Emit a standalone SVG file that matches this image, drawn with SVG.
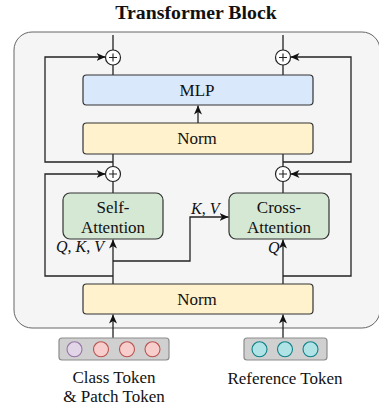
<svg xmlns="http://www.w3.org/2000/svg" width="379" height="412" viewBox="0 0 379 412">
  <style>
    .box { stroke: #333333; stroke-width: 1.2; }
    .label { font-family: "Liberation Serif", "Times New Roman", serif; font-size: 17px; fill: #111111; text-anchor: middle; }
    .math { font-family: "Liberation Serif", "Times New Roman", serif; font-size: 16px; font-style: italic; fill: #111111; }
    .wire { fill: none; stroke: #222222; stroke-width: 1.3; }
    .sum { fill: #ffffff; stroke: #222222; stroke-width: 1.2; }
    .plus { stroke: #222222; stroke-width: 1.1; }
    .bar { fill: #d0d0d0; stroke: #8c8c8c; stroke-width: 1.2; }
  </style>
  <defs>
    <marker id="arrow" markerUnits="userSpaceOnUse" markerWidth="10" markerHeight="8" viewBox="0 0 10 8" refX="9" refY="4" orient="auto">
      <path d="M0,0 L9,4 L0,8 L2.5,4 Z" fill="#111111"/>
    </marker>
  </defs>

  <!-- title -->
  <text id="title" x="196" y="19" font-family="Liberation Serif, Times New Roman, serif" font-size="19.8" font-weight="bold" text-anchor="middle" fill="#111111">Transformer Block</text>

  <!-- block container -->
  <rect id="container" x="14" y="32" width="366" height="296" rx="18" fill="#f5f5f5" stroke="#666666" stroke-width="1"/>

  <!-- connectors -->
  <g id="connectors">
    <path class="wire" d="M113,35 V50 M113,65 V75"/>
    <path class="wire" d="M283,35 V50 M283,65 V75"/>
    <path class="wire" d="M198,123 V105.5" marker-end="url(#arrow)"/>
    <path class="wire" d="M113,154 V167 M283,154 V167"/>
    <path class="wire" d="M113,162 H45 V57 H105.5" marker-end="url(#arrow)"/>
    <path class="wire" d="M283,162 H351 V57 H290.5" marker-end="url(#arrow)"/>
    <path class="wire" d="M113,181 V193 M283,181 V193"/>
    <path class="wire" d="M113,276 H45 V174 H105.5" marker-end="url(#arrow)"/>
    <path class="wire" d="M283,276 H351 V174 H290.5" marker-end="url(#arrow)"/>
    <path class="wire" d="M113,284 V239.5" marker-end="url(#arrow)"/>
    <path class="wire" d="M113,261 H190 V217 H228.5" marker-end="url(#arrow)"/>
    <path class="wire" d="M283,284 V239.5" marker-end="url(#arrow)"/>
    <path class="wire" d="M113,338 V314.5" marker-end="url(#arrow)"/>
    <path class="wire" d="M283,338 V314.5" marker-end="url(#arrow)"/>
  </g>

  <!-- residual additions -->
  <g id="add-top-left">
    <circle class="sum" cx="113" cy="57.5" r="7.5"/>
    <path class="plus" d="M109,57.5 H117 M113,53.5 V61.5"/>
  </g>
  <g id="add-top-right">
    <circle class="sum" cx="283" cy="57.5" r="7.5"/>
    <path class="plus" d="M279,57.5 H287 M283,53.5 V61.5"/>
  </g>
  <g id="add-mid-left">
    <circle class="sum" cx="113" cy="174" r="7.5"/>
    <path class="plus" d="M109,174 H117 M113,170 V178"/>
  </g>
  <g id="add-mid-right">
    <circle class="sum" cx="283" cy="174" r="7.5"/>
    <path class="plus" d="M279,174 H287 M283,170 V178"/>
  </g>

  <!-- MLP -->
  <g id="mlp">
    <rect class="box" x="83" y="75" width="230" height="30" rx="3.5" fill="#dae8fc"/>
    <text class="label" x="197" y="95.5">MLP</text>
  </g>

  <!-- Norm (upper) -->
  <g id="norm-upper">
    <rect class="box" x="83" y="123" width="230" height="31" rx="3.5" fill="#fff2cc"/>
    <text class="label" x="197" y="144">Norm</text>
  </g>

  <!-- Self-Attention -->
  <g id="self-attention">
    <rect class="box" x="63" y="193" width="100" height="46" rx="7" fill="#d5e8d4"/>
    <text class="label" x="113" y="213">Self-</text>
    <text class="label" x="113" y="233">Attention</text>
  </g>

  <!-- Cross-Attention -->
  <g id="cross-attention">
    <rect class="box" x="229" y="193" width="100" height="46" rx="7" fill="#d5e8d4"/>
    <text class="label" x="279" y="213">Cross-</text>
    <text class="label" x="279" y="233">Attention</text>
  </g>

  <!-- Norm (lower) -->
  <g id="norm-lower">
    <rect class="box" x="83" y="284" width="230" height="30" rx="3.5" fill="#fff2cc"/>
    <text class="label" x="197" y="305">Norm</text>
  </g>

  <!-- attention input labels -->
  <text id="qkv-label" class="math" x="56" y="251.5">Q<tspan font-style="normal">,</tspan> K<tspan font-style="normal">,</tspan> V</text>
  <text id="kv-label" class="math" x="191" y="214">K<tspan font-style="normal">,</tspan> V</text>
  <text id="q-label" class="math" x="268" y="252.5">Q</text>

  <!-- class & patch tokens -->
  <g id="class-patch-tokens">
    <rect class="bar" x="59" y="338" width="110" height="22" rx="3"/>
    <circle cx="74.5" cy="349.3" r="7.5" fill="#e1d5e7" stroke="#9673a6" stroke-width="1.1"/>
    <circle cx="101" cy="349.3" r="7.5" fill="#f8cecc" stroke="#b85450" stroke-width="1.1"/>
    <circle cx="127" cy="349.3" r="7.5" fill="#f8cecc" stroke="#b85450" stroke-width="1.1"/>
    <circle cx="152.5" cy="349.3" r="7.5" fill="#f8cecc" stroke="#b85450" stroke-width="1.1"/>
    <text class="label" x="114" y="383">Class Token</text>
    <text class="label" x="114" y="402">&amp; Patch Token</text>
  </g>

  <!-- reference tokens -->
  <g id="reference-tokens">
    <rect class="bar" x="244" y="338" width="83" height="22" rx="3"/>
    <circle cx="259.5" cy="349.3" r="7.5" fill="#b0e3e6" stroke="#0e8088" stroke-width="1.1"/>
    <circle cx="285" cy="349.3" r="7.5" fill="#b0e3e6" stroke="#0e8088" stroke-width="1.1"/>
    <circle cx="310.5" cy="349.3" r="7.5" fill="#b0e3e6" stroke="#0e8088" stroke-width="1.1"/>
    <text class="label" x="285" y="384">Reference Token</text>
  </g>
</svg>
